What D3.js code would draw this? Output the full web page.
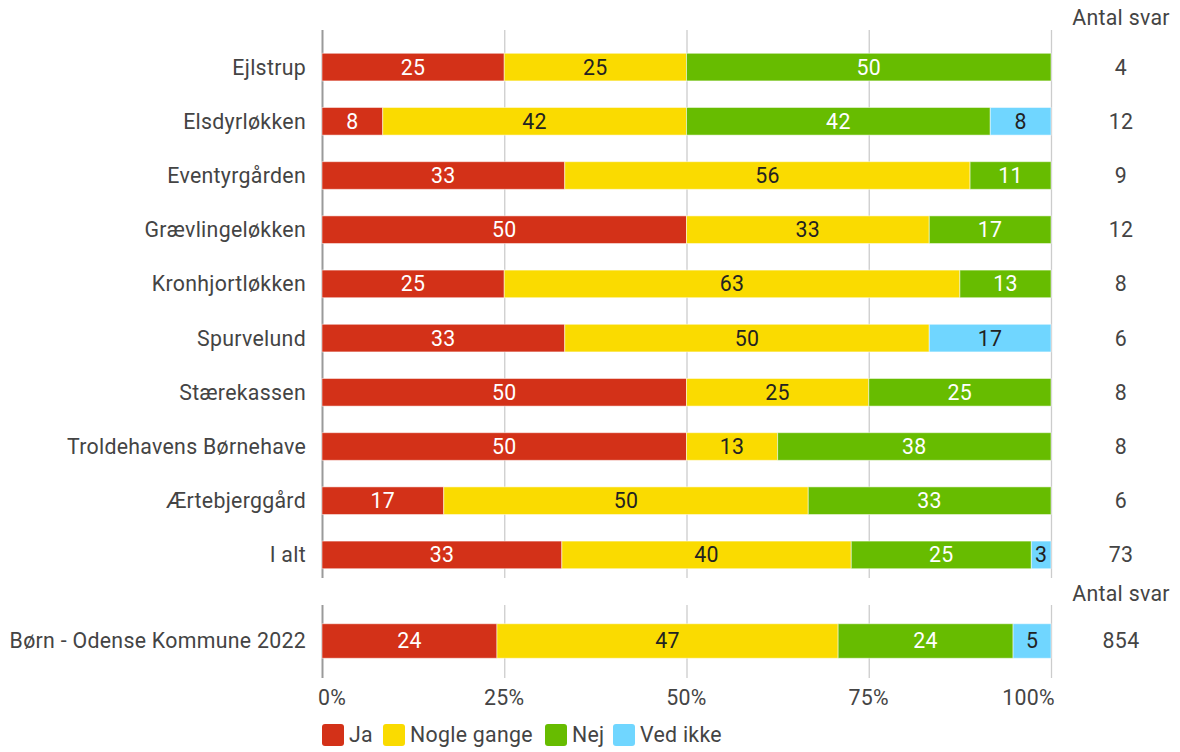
<!DOCTYPE html>
<html><head><meta charset="utf-8">
<script src="https://cdn.jsdelivr.net/npm/d3@7"></script>
<style>body{margin:0;background:#fff;} svg{display:block;font-family:Roboto,sans-serif;letter-spacing:0.3px;}</style>
</head><body>
<svg id="c" width="1180" height="752"></svg>
<script>
const categories = ["Ejlstrup","Elsdyrløkken","Eventyrgården","Grævlingeløkken","Kronhjortløkken","Spurvelund","Stærekassen","Troldehavens Børnehave","Ærtebjerggård","I alt"];
const ja        = [25, 8.33, 33.3, 50, 25, 33.3, 50, 50, 16.7, 32.9];
const nogle     = [25, 41.67, 55.6, 33.3, 62.5, 50, 25, 12.5, 50, 39.7];
const nej       = [50, 41.67, 11.1, 16.7, 12.5, 0, 25, 37.5, 33.3, 24.7];
const vedIkke   = [0, 8.33, 0, 0, 0, 16.7, 0, 0, 0, 2.7];
const antal     = [4, 12, 9, 12, 8, 6, 8, 8, 6, 73];

const refCategory = ["Børn - Odense Kommune 2022"];
const refJa = [24.0], refNogle = [46.8], refNej = [24.0], refVed = [5.2];
const refAntal = [854];

const seriesNames = ["Ja","Nogle gange","Nej","Ved ikke"];
const colors = ["#D33118","#FADB00","#67BC00","#70D6FF"];
const labelColors = ["#ffffff","#222222","#ffffff","#222222"];
const ticks = [0,25,50,75,100];
const tickLabels = ["0%","25%","50%","75%","100%"];

const FS = 21.3;
const svg = d3.select("#c");
const x = d3.scaleLinear().domain([0,100]).range([322,1051]);
const yTop = d3.scaleBand().domain(categories).range([40,582]).paddingInner(0.49).paddingOuter(0.245);
const yBot = d3.scaleBand().domain(refCategory).range([614,668]).padding(0.22);
const textCol = "#444";

function panel(cats, cols, y, gy0, gy1, counts, headerY){
  const g = svg.append("g");
  g.selectAll("line.grid").data(ticks).join("line")
    .attr("x1",d=>x(d)+0.5).attr("x2",d=>x(d)+0.5).attr("y1",gy0).attr("y2",gy1)
    .attr("stroke",d=>d===0?"#9a9a9a":"#cccccc").attr("stroke-width",d=>d===0?2:1.3);
  const rows = cats.map((c,i)=>{
    let acc=0;
    return cols.map((arr,k)=>{ const v=arr[i]; const s={cat:c,k,v,x0:acc,x1:acc+v}; acc+=v; return s;});
  }).flat().filter(d=>d.v>0);
  g.selectAll("rect.seg").data(rows).join("rect")
    .attr("x",d=>x(d.x0)).attr("width",d=>x(d.x1)-x(d.x0))
    .attr("y",d=>y(d.cat)).attr("height",y.bandwidth())
    .attr("fill",d=>colors[d.k]).attr("stroke","#ffffff").attr("stroke-opacity",0.5).attr("stroke-width",1);
  g.selectAll("text.val").data(rows).join("text")
    .attr("x",d=>(x(d.x0)+x(d.x1))/2).attr("y",d=>y(d.cat)+y.bandwidth()/2)
    .attr("dy","0.35em").attr("text-anchor","middle").attr("font-size",FS)
    .attr("fill",d=>labelColors[d.k]).text(d=>Math.round(d.v));
  g.selectAll("text.cat").data(cats).join("text")
    .attr("x",306).attr("y",d=>y(d)+y.bandwidth()/2).attr("dy","0.35em")
    .attr("text-anchor","end").attr("font-size",FS).attr("fill",textCol).text(d=>d);
  g.selectAll("text.cnt").data(cats).join("text")
    .attr("x",1121).attr("y",d=>y(d)+y.bandwidth()/2).attr("dy","0.35em")
    .attr("text-anchor","middle").attr("font-size",FS).attr("fill",textCol).text((d,i)=>counts[i]);
  g.append("text").attr("x",1121).attr("y",headerY).attr("dy","0.35em").attr("text-anchor","middle")
    .attr("font-size",FS).attr("fill",textCol).text("Antal svar");
}
panel(categories,[ja,nogle,nej,vedIkke],yTop,30,578,antal,18);
panel(refCategory,[refJa,refNogle,refNej,refVed],yBot,605,678,refAntal,594);

// x axis labels
svg.append("g").selectAll("text").data(ticks).join("text")
  .attr("x",(d,i)=> i===0 ? x(d)-4 : i===ticks.length-1 ? x(d)+4 : x(d))
  .attr("y",698).attr("dy","0.35em")
  .attr("text-anchor",(d,i)=> i===0 ? "start" : i===ticks.length-1 ? "end" : "middle")
  .attr("font-size",FS).attr("fill",textCol).text((d,i)=>tickLabels[i]);

// legend
const legX = [322,383,545,613];
const lg = svg.append("g").selectAll("g").data(seriesNames).join("g")
  .attr("transform",(d,i)=>`translate(${legX[i]},724)`);
lg.append("rect").attr("width",22).attr("height",22).attr("rx",3).attr("fill",(d,i)=>colors[i]);
lg.append("text").attr("x",27).attr("y",11).attr("dy","0.35em").attr("font-size",FS).attr("fill",textCol).text(d=>d);
</script>
</body></html>
